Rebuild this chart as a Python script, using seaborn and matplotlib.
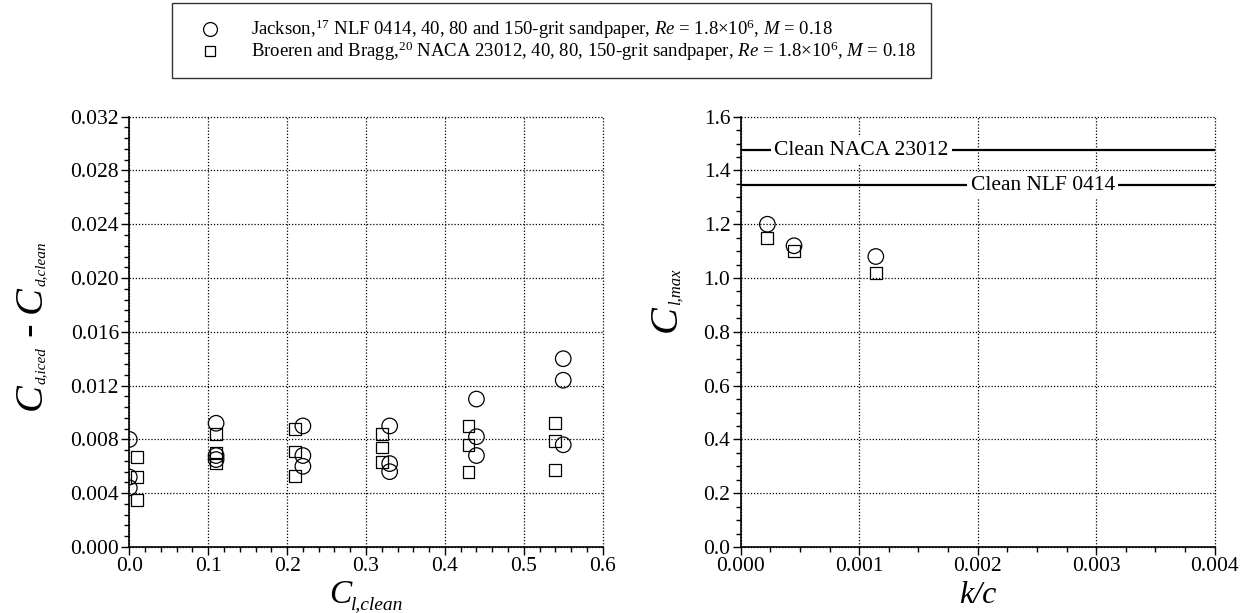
import numpy as np
import pandas as pd
import matplotlib
matplotlib.use("Agg")
import matplotlib.pyplot as plt
from matplotlib.ticker import MultipleLocator, FormatStrFormatter
from matplotlib.lines import Line2D
import seaborn as sns

# ---- drag increment vs. clean lift coefficient ----
jackson_cl = [0.00, 0.00, 0.00, 0.11, 0.11, 0.11, 0.22, 0.22, 0.22,
              0.33, 0.33, 0.33, 0.44, 0.44, 0.44, 0.55, 0.55, 0.55]
jackson_dcd = [0.0080, 0.0052, 0.0044, 0.0092, 0.0068, 0.0065,
               0.0090, 0.0068, 0.0060, 0.0090, 0.0062, 0.0056,
               0.0110, 0.0082, 0.0068, 0.0140, 0.0124, 0.0076]
broeren_cl = [0.01, 0.01, 0.01, 0.11, 0.11, 0.11, 0.21, 0.21, 0.21,
              0.32, 0.32, 0.32, 0.43, 0.43, 0.43, 0.54, 0.54, 0.54]
broeren_dcd = [0.0067, 0.0052, 0.0035, 0.0084, 0.0070, 0.0062,
               0.0088, 0.0071, 0.0053, 0.0084, 0.0074, 0.0063,
               0.0090, 0.0076, 0.0056, 0.0092, 0.0079, 0.0057]

# ---- maximum lift vs. roughness height ----
jackson_kc = [0.000225, 0.00045, 0.00114]
jackson_clmax = [1.20, 1.12, 1.08]
broeren_kc = [0.000225, 0.00045, 0.00114]
broeren_clmax = [1.15, 1.10, 1.02]

clean_naca23012 = 1.475
clean_nlf0414 = 1.345

legend_labels = [
    r"Jackson,$^{17}$ NLF 0414, 40, 80 and 150-grit sandpaper, $Re$ = 1.8×10$^{6}$, $M$ = 0.18",
    r"Broeren and Bragg,$^{20}$ NACA 23012, 40, 80, 150-grit sandpaper, $Re$ = 1.8×10$^{6}$, $M$ = 0.18",
]

sns.set_theme(style="white")
plt.rcParams["font.family"] = ["Liberation Serif", "DejaVu Serif"]
plt.rcParams["mathtext.fontset"] = "custom"
plt.rcParams["mathtext.rm"] = "Liberation Serif"
plt.rcParams["mathtext.it"] = "Liberation Serif:italic"
plt.rcParams["mathtext.bf"] = "Liberation Serif:bold"
plt.rcParams["text.color"] = "black"
plt.rcParams["axes.labelcolor"] = "black"
plt.rcParams["xtick.color"] = "black"
plt.rcParams["ytick.color"] = "black"

W_PX, H_PX = 1247, 613
fig = plt.figure(figsize=(W_PX / 100, H_PX / 100), dpi=100)
ax1 = fig.add_axes([0.1037, 0.1077, 0.3796, 0.702])
ax2 = fig.add_axes([0.5940, 0.1077, 0.3801, 0.702])

circ_kw = dict(marker="o", s=125, facecolor="none", edgecolor="black", linewidth=0.9, zorder=5)
sq_kw = dict(marker="s", s=72, facecolor="none", edgecolor="black", linewidth=0.9, zorder=5)

sns.scatterplot(x=jackson_cl, y=jackson_dcd, ax=ax1, **circ_kw)
sns.scatterplot(x=broeren_cl, y=broeren_dcd, ax=ax1, **sq_kw)
sns.scatterplot(x=jackson_kc, y=jackson_clmax, ax=ax2, **circ_kw)
sns.scatterplot(x=broeren_kc, y=broeren_clmax, ax=ax2, **sq_kw)


def style_axes(ax, xlim, ylim, xmaj, xmin, ymaj, ymin, xfmt, yfmt):
    ax.set_xlim(*xlim)
    ax.set_ylim(*ylim)
    ax.xaxis.set_major_locator(MultipleLocator(xmaj))
    ax.xaxis.set_minor_locator(MultipleLocator(xmin))
    ax.yaxis.set_major_locator(MultipleLocator(ymaj))
    ax.yaxis.set_minor_locator(MultipleLocator(ymin))
    ax.xaxis.set_major_formatter(FormatStrFormatter(xfmt))
    ax.yaxis.set_major_formatter(FormatStrFormatter(yfmt))
    ax.grid(True, which="major", color="black", linestyle=(0, (1, 1.5)), linewidth=0.9)
    ax.set_axisbelow(True)
    for side in ("top", "right"):
        ax.spines[side].set_visible(False)
    for side in ("left", "bottom"):
        ax.spines[side].set_color("black")
        ax.spines[side].set_linewidth(1.2)
        ax.spines[side].set_zorder(6)
    ax.tick_params(which="major", direction="out", length=5.5, width=1.0,
                   labelsize=15.5, pad=2, bottom=True, left=True)
    ax.tick_params(which="minor", direction="out", length=3.5, width=1.0,
                   bottom=True, left=True)
    for line in ax.get_xgridlines() + ax.get_ygridlines():
        line.set_clip_on(False)
    ax.set_xlabel("")
    ax.set_ylabel("")


style_axes(ax1, (0, 0.6), (0, 0.032), 0.1, 0.02, 0.004, 0.0008, "%.1f", "%.3f")
style_axes(ax2, (0, 0.004), (0, 1.6), 0.001, 0.00025, 0.2, 0.05, "%.3f", "%.1f")

# clean-airfoil reference levels
for level, text, xc in [(clean_naca23012, "Clean NACA 23012", 0.00102),
                        (clean_nlf0414, "Clean NLF 0414", 0.00255)]:
    ax2.axhline(level, color="black", linewidth=1.6, zorder=3)
    ax2.text(xc, level, text, ha="center", va="center", fontsize=15.5, zorder=4,
             bbox=dict(facecolor="white", edgecolor="none", pad=2.5))

handles = [
    Line2D([], [], marker="o", linestyle="none", markersize=10, markerfacecolor="none",
           markeredgecolor="black", markeredgewidth=0.9),
    Line2D([], [], marker="s", linestyle="none", markersize=7.5, markerfacecolor="none",
           markeredgecolor="black", markeredgewidth=0.9),
]
leg = fig.legend(handles, legend_labels, loc="upper center", bbox_to_anchor=(0.4425, 0.995),
                 fontsize=13.5, frameon=True, fancybox=False, edgecolor="black",
                 borderpad=0.8, handletextpad=0.96, labelspacing=-0.08, handlelength=2.45,
                 borderaxespad=0)
leg.get_frame().set_linewidth(1.0)


def compose_label(pieces, baseline_px, center_px, vertical):
    """Lay out a label from pieces of (text, size, style, drop_px) along one baseline."""
    renderer = fig.canvas.get_renderer()
    placed = []
    total = 0.0
    for s, size, style, drop in pieces:
        t = fig.text(0, 0, s, fontsize=size, fontstyle=style,
                     rotation=90 if vertical else 0, rotation_mode="anchor",
                     ha="left", va="baseline")
        bb = t.get_window_extent(renderer)
        adv = bb.height if vertical else bb.width
        placed.append((t, adv, drop))
        total += adv
    pos = center_px - total / 2
    for t, adv, drop in placed:
        if vertical:
            t.set_position(((baseline_px + drop) / W_PX, pos / H_PX))
        else:
            t.set_position((pos / W_PX, (baseline_px - drop) / H_PX))
        pos += adv


# axis titles (pixel positions measured from the bottom-left corner)
compose_label([("C", 29, "italic", 0), ("d,iced", 11, "italic", 4),
               (" - ", 29, "normal", 0),
               ("C", 29, "italic", 0), ("d,clean", 11, "italic", 4)],
              baseline_px=41, center_px=H_PX - 326, vertical=True)
compose_label([("C", 24, "italic", 0), ("l,clean", 14, "italic", 6)],
              baseline_px=H_PX - 603, center_px=366, vertical=False)
compose_label([("k/c", 23, "italic", 0)],
              baseline_px=H_PX - 603, center_px=978, vertical=False)
compose_label([("C", 29, "italic", 0), ("l,max", 12, "italic", 4)],
              baseline_px=676, center_px=H_PX - 300, vertical=True)

fig.savefig("out.png", dpi=100, facecolor="white")
